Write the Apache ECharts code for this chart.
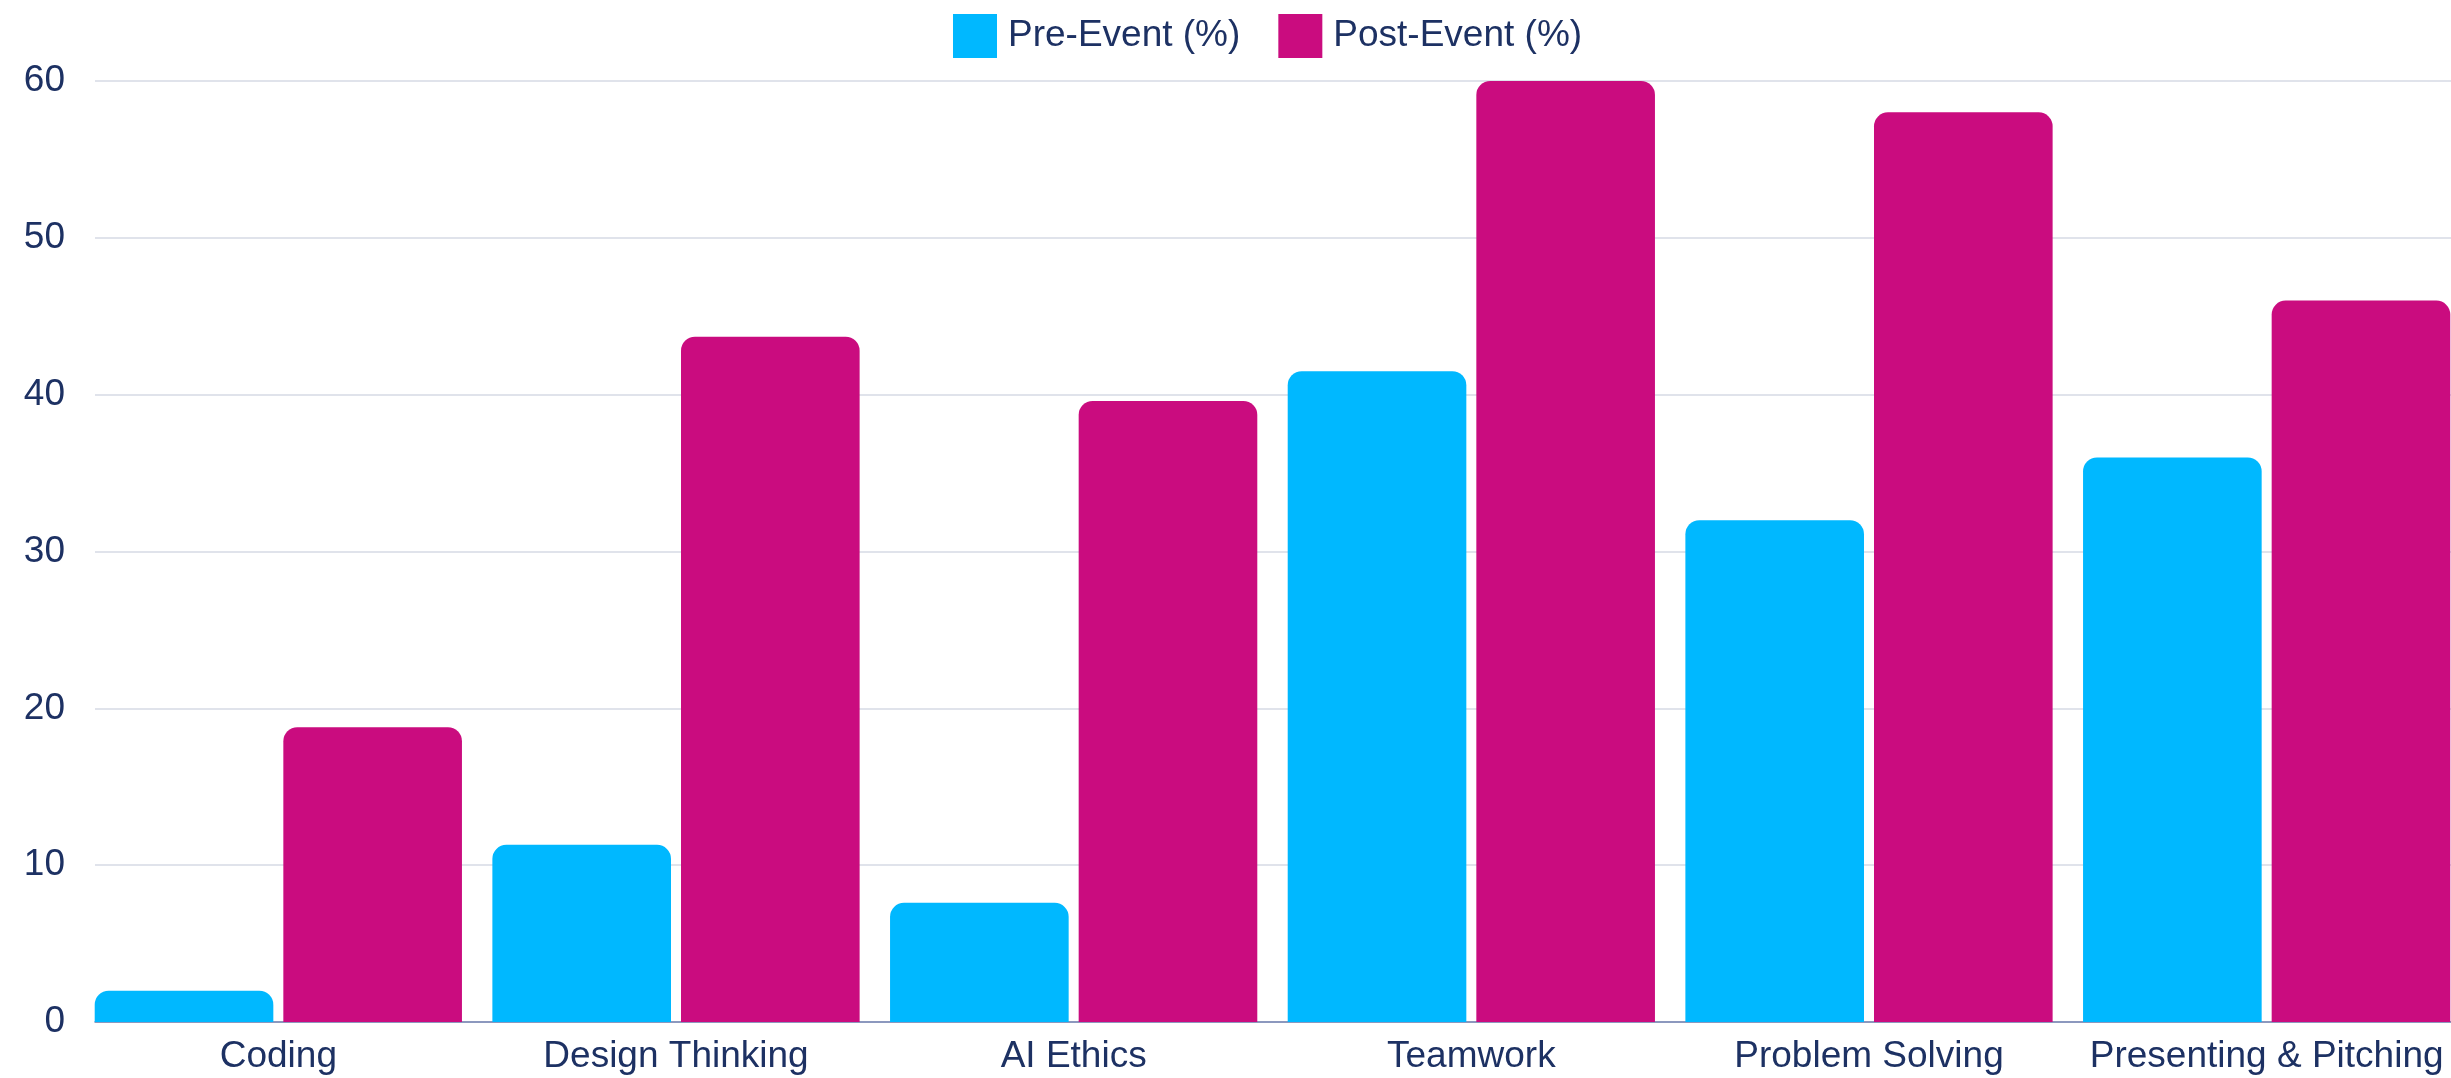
<!DOCTYPE html>
<html>
<head>
<meta charset="utf-8">
<script src="https://cdn.jsdelivr.net/npm/echarts@6/dist/echarts.min.js"></script>
<style>
  html, body { margin: 0; padding: 0; background: #fff; }
  #chart { width: 2451px; height: 1078px; }
</style>
</head>
<body>
<div id="chart"></div>
<script>
const skills = ['Coding', 'Design Thinking', 'AI Ethics', 'Teamwork', 'Problem Solving', 'Presenting & Pitching'];
const preEvent = [2.0, 11.3, 7.6, 41.5, 32.0, 36.0];
const postEvent = [18.8, 43.7, 39.6, 60.0, 58.0, 46.0];
const yTicks = { min: 0, max: 60, interval: 10 };

const textColor = '#1d3163';
const font = 'Liberation Sans, Arial, sans-serif';

const chart = echarts.init(document.getElementById('chart'));

const option = {
  animation: false,
  backgroundColor: '#ffffff',
  legend: {
    left: 948,
    top: 9,
    itemWidth: 44,
    itemHeight: 44,
    itemGap: 38,
    icon: 'rect',
    textStyle: { color: textColor, fontSize: 37, fontFamily: font, padding: [0, 0, 0, 6] },
    data: ['Pre-Event (%)', 'Post-Event (%)']
  },
  grid: [
    // gridlines + y labels
    { left: 95, right: 0, top: 81, bottom: 56, containLabel: false, outerBoundsMode: 'none' },
    // bars + category labels (bands start a bit left of the gridlines, run past the right edge)
    { left: 79.5, width: 2386, top: 81, bottom: 56, containLabel: false, outerBoundsMode: 'none' }
  ],
  xAxis: [
    {
      type: 'value',
      gridIndex: 0,
      min: 0,
      max: 1,
      axisLine: { show: true, onZero: false, lineStyle: { color: '#7080b0', width: 1.5 } },
      axisTick: { show: false },
      axisLabel: { show: false },
      splitLine: { show: false }
    },
    {
      type: 'category',
      gridIndex: 1,
      data: skills,
      axisLine: { show: false },
      axisTick: { show: false },
      axisLabel: { color: textColor, fontSize: 37, fontFamily: font, margin: 16, interval: 0 }
    }
  ],
  yAxis: [
    {
      type: 'value',
      gridIndex: 0,
      min: yTicks.min,
      max: yTicks.max,
      interval: yTicks.interval,
      axisLine: { show: false },
      axisTick: { show: false },
      axisLabel: { color: textColor, fontSize: 37, fontFamily: font, margin: 30 },
      splitLine: { lineStyle: { color: '#d6dae4', width: 1.5 } }
    },
    {
      type: 'value',
      gridIndex: 1,
      min: yTicks.min,
      max: yTicks.max,
      interval: yTicks.interval,
      show: false,
      splitLine: { show: false }
    }
  ],
  series: [
    {
      name: 'Pre-Event (%)',
      type: 'bar',
      xAxisIndex: 1,
      yAxisIndex: 1,
      data: preEvent,
      barCategoryGap: '7.65%',
      barGap: '5.6%',
      itemStyle: { color: '#00b8ff', borderRadius: [14, 14, 0, 0] }
    },
    {
      name: 'Post-Event (%)',
      type: 'bar',
      xAxisIndex: 1,
      yAxisIndex: 1,
      data: postEvent,
      barCategoryGap: '7.65%',
      barGap: '5.6%',
      itemStyle: { color: '#ca0c7f', borderRadius: [14, 14, 0, 0] }
    }
  ]
};

chart.setOption(option);
window.addEventListener('resize', () => chart.resize());
</script>
</body>
</html>
